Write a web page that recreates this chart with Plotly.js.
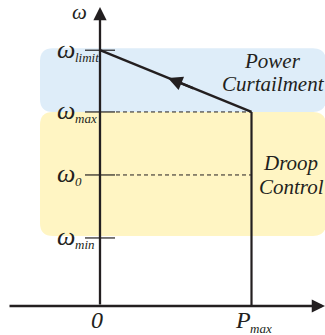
<!DOCTYPE html>
<html><head><meta charset="utf-8">
<script src="https://cdn.plot.ly/plotly-3.0.1.min.js"></script>
<style>html,body{margin:0;padding:0;background:#fff}#chart{width:325px;height:335px}</style>
</head><body><div id="chart"></div>
<script>
// ---- data (schematic values) ----
const powerTickLabels = ['0', 'P'];
const powerTickSubs = ['', 'max'];
const powerValues = [0, 1];                 // 0 and P_max
const omegaTickSubs = ['limit', 'max', '0', 'min'];
const omegaValues = [4.06, 3.08, 2.08, 1.08]; // ω_limit, ω_max, ω_0, ω_min
const droopP = [1, 0];                        // from (P_max, ω_max) to (0, ω_limit)
const droopOmega = [3.08, 4.06];
const pmaxLineP = [1, 1];
const pmaxLineOmega = [3.08, 0];
const regionLines = [['Power', 'Curtailment'], ['Droop', 'Control']];

// ---- layout helpers (pixel -> axis units, for decoration placement) ----
const W = 325, H = 335;
const x0px = 100, xUnit = 151.5, y0px = 306, yUnit = 63;
const X = px => (px - x0px) / xUnit;
const Y = py => (y0px - py) / yUnit;
const ink = '#231f20';
const fontFamily = 'Liberation Serif';

function roundRect(x1, y1, x2, y2, rpx) {
  const rx = rpx / xUnit, ry = rpx / yUnit;
  return `M${x1 + rx},${y2} L${x2 - rx},${y2} Q${x2},${y2} ${x2},${y2 - ry} ` +
    `L${x2},${y1 + ry} Q${x2},${y1} ${x2 - rx},${y1} L${x1 + rx},${y1} ` +
    `Q${x1},${y1} ${x1},${y1 + ry} L${x1},${y2 - ry} Q${x1},${y2} ${x1 + rx},${y2} Z`;
}

function draw() {
  const [wLimit, wMax, w0, wMin] = omegaValues;
  const shapes = [];
  shapes.push({type: 'path', xref: 'x', yref: 'y', layer: 'below',
    path: roundRect(X(40), wMax, X(326), wLimit + 2 / yUnit, 13),
    fillcolor: '#deedf9', line: {width: 0}});
  shapes.push({type: 'path', xref: 'x', yref: 'y', layer: 'below',
    path: roundRect(X(40), wMin + 2 / yUnit, X(326), wMax, 13),
    fillcolor: '#fff5c3', line: {width: 0}});
  omegaValues.forEach(w => shapes.push({type: 'line', xref: 'x', yref: 'y',
    x0: X(85), x1: X(115), y0: w, y1: w, line: {color: ink, width: 1.2}}));
  [wMax, w0].forEach(w => shapes.push({type: 'line', xref: 'x', yref: 'y',
    x0: X(116), x1: powerValues[1], y0: w, y1: w, line: {color: ink, width: 1, dash: '4px,3px'}}));

  const traces = [
    {x: pmaxLineP, y: pmaxLineOmega, mode: 'lines', line: {color: ink, width: 2.2}, hoverinfo: 'skip'},
    {x: droopP, y: droopOmega, mode: 'lines', line: {color: ink, width: 2.4}, hoverinfo: 'skip'}
  ];

  const annotations = [];
  function arrow(x, y, ax, ay, size) {
    annotations.push({x, y, ax, ay, xref: 'x', yref: 'y', axref: 'x', ayref: 'y', text: '',
      showarrow: true, arrowhead: 2, arrowsize: size, arrowwidth: 2.3, arrowcolor: ink, standoff: 0});
  }
  arrow(X(325), 0, X(8), 0, 1.15);       // P axis
  arrow(0, Y(7), 0, 0, 1.15);            // ω axis
  const slope = (droopOmega[1] - droopOmega[0]) / (droopP[1] - droopP[0]);
  const onLine = p => droopOmega[0] + (p - droopP[0]) * slope;
  arrow(X(168), onLine(X(168)), X(195), onLine(X(195)), 1.25);

  function txt(text, x, y, size, xanchor, yanchor) {
    annotations.push({text: '<i>' + text + '</i>', x, y, xref: 'x', yref: 'y', showarrow: false,
      xanchor: xanchor || 'center', yanchor: yanchor || 'middle',
      font: {family: fontFamily, size, color: ink}});
  }
  omegaValues.forEach((w, i) => {
    txt('ω', X(55), w + 1 / yUnit, 26, 'left', 'middle');
    txt(omegaTickSubs[i], X(73), w - 7 / yUnit, 13, 'left', 'middle');
  });
  txt('ω', X(79), Y(12), 21, 'center', 'middle');
  txt(powerTickLabels[0], powerValues[0] - 3 / xUnit, Y(320), 24, 'center', 'middle');
  txt(powerTickLabels[1], powerValues[1] - 9 / xUnit, Y(320), 24, 'center', 'middle');
  txt(powerTickSubs[1], powerValues[1] + 9 / xUnit, Y(328), 13, 'center', 'middle');
  txt(regionLines[0][0], X(272), Y(61), 21);
  txt(regionLines[0][1], X(273), Y(84), 21);
  txt(regionLines[1][0], X(290), Y(163), 21);
  txt(regionLines[1][1], X(291), Y(187), 21);

  const layout = {
    width: W, height: H, margin: {l: 0, r: 0, t: 0, b: 0},
    paper_bgcolor: '#fff', plot_bgcolor: '#fff', showlegend: false,
    font: {family: fontFamily},
    xaxis: {range: [X(0), X(W)], visible: false, fixedrange: true},
    yaxis: {range: [Y(H), Y(0)], visible: false, fixedrange: true},
    shapes, annotations
  };
  Plotly.newPlot('chart', traces, layout, {staticPlot: true, displayModeBar: false});
}

if (document.fonts && document.fonts.load) {
  Promise.all([
    document.fonts.load('italic 20px "Liberation Serif"', 'ωPC0'),
    document.fonts.load('20px "Liberation Serif"', 'ωPC0')
  ]).then(draw, draw);
} else { draw(); }
</script></body></html>
